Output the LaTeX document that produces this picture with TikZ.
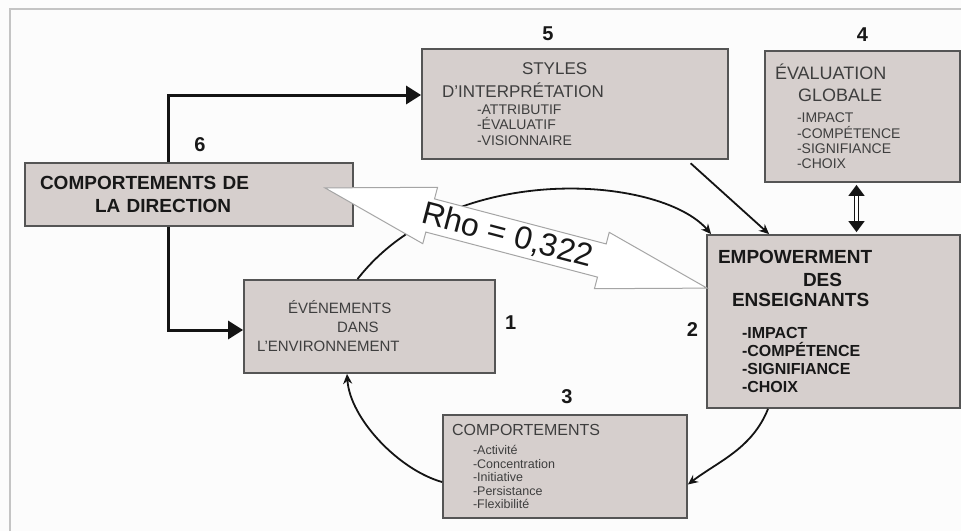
\documentclass[tikz,border=0pt]{standalone}
\usepackage{fontspec}
\setmainfont{Liberation Sans}
\usepackage{tikz}
\usetikzlibrary{positioning,arrows.meta,shapes.arrows}
\definecolor{bgcol}{RGB}{252,252,252}
\definecolor{framecol}{RGB}{196,196,196}
\definecolor{boxfill}{RGB}{214,207,205}
\definecolor{boxline}{RGB}{85,85,85}
\definecolor{txtgray}{RGB}{62,62,62}
\definecolor{txtdark}{RGB}{24,24,24}
\definecolor{linedark}{RGB}{20,20,20}
\definecolor{rhoedge}{RGB}{165,165,165}
\tikzset{main box/.style={rectangle,draw=boxline,fill=boxfill,line width=1.8pt,align=left,text=txtgray,inner ysep=0pt},
num node/.style={inner sep=0pt,font=\bfseries\fontsize{20}{20}\selectfont,text=txtdark},
thick link/.style={draw=linedark,line width=3pt,-{Triangle[length=15pt,width=18pt]}},
loop link/.style={draw=linedark,line width=1.8pt,-{Stealth[length=10pt,width=9pt]}},
}

\begin{document}
\begin{tikzpicture}[x=1pt,y=-1pt]
	\useasboundingbox (0,0) rectangle (961,531);
	\fill[bgcol] (0,0) rectangle (961,531);
	\draw[framecol,line width=2.5pt] (10,531) -- (10,9) -- (961,9);

	\node[main box, minimum width=328pt, minimum height=63pt, text width=298pt, inner xsep=15pt,
		text=txtdark, font=\bfseries\fontsize{19}{23}\selectfont] (dir) at (189,194.5)
		{COMPORTEMENTS DE\\\hspace*{55pt}LA DIRECTION};
	\node[main box, minimum width=306pt, minimum height=110pt, text width=266pt, inner xsep=20pt,
		font=\fontsize{14}{15.7}\selectfont] (styles) at (575,104)
		{\fontsize{17}{15.7}\selectfont\hspace*{80pt}STYLES\\[7.3pt]
		D'INTERPRÉTATION\\[1.3pt]
		\fontsize{14}{15.7}\selectfont\hspace*{35pt}-ATTRIBUTIF\\
		\hspace*{35pt}-ÉVALUATIF\\
		\hspace*{35pt}-VISIONNAIRE};
	\node[main box, minimum width=195pt, minimum height=131pt, text width=175pt, inner xsep=10pt,
		font=\fontsize{14}{15.3}\selectfont] (eval) at (862.5,116.5)
		{\fontsize{18}{15.3}\selectfont ÉVALUATION\\[6.7pt]
		\hspace*{23pt}GLOBALE\\[5.7pt]
		\fontsize{14}{15.3}\selectfont\hspace*{22pt}-IMPACT\\
		\hspace*{22pt}-COMPÉTENCE\\
		\hspace*{22pt}-SIGNIFIANCE\\
		\hspace*{22pt}-CHOIX};
	\node[main box, minimum width=253pt, minimum height=173pt, text width=231pt, inner xsep=11pt,
		text=txtdark, font=\bfseries\fontsize{16}{18}\selectfont] (emp) at (833.5,321.5)
		{\fontsize{19}{18}\selectfont EMPOWERMENT\\[5pt]
		\hspace*{85pt}DES\\[2pt]
		\hspace*{14pt}ENSEIGNANTS\\[14pt]
		\fontsize{16}{18}\selectfont\hspace*{24pt}-IMPACT\\
		\hspace*{24pt}-COMPÉTENCE\\
		\hspace*{24pt}-SIGNIFIANCE\\
		\hspace*{24pt}-CHOIX};
	\node[main box, minimum width=251pt, minimum height=93pt, text width=225pt, inner xsep=13pt,
		font=\fontsize{15}{19}\selectfont] (env) at (369.5,326.5)
		{\hspace*{31pt}ÉVÉNEMENTS\\
		\hspace*{80pt}DANS\\
		L'ENVIRONNEMENT};
	\node[main box, minimum width=244pt, minimum height=103pt, text width=226pt, inner xsep=9pt,
		font=\fontsize{12.5}{13.5}\selectfont] (beh) at (565,466.5)
		{\fontsize{16}{13.5}\selectfont COMPORTEMENTS\\[5.5pt]
		\fontsize{12.5}{13.5}\selectfont\hspace*{21pt}-Activité\\
		\hspace*{21pt}-Concentration\\
		\hspace*{21pt}-Initiative\\
		\hspace*{21pt}-Persistance\\
		\hspace*{21pt}-Flexibilité};

	\node[num node] (n1) [right=9pt of env, yshift=4pt] {1};
	\node[num node] (n2) [left=8pt of emp, yshift=-8pt] {2};
	\node[num node] (n3) [above=10pt of beh, xshift=2pt] {3};
	\node[num node] (n4) [above=8pt of eval] {4};
	\node[num node] (n5) [above=7pt of styles, xshift=-27pt] {5};
	\node[num node] (n6) [above=10pt of dir, xshift=11pt] {6};

	% cycle
	\draw[loop link] ([xshift=-12pt]env.north) .. controls (450,160) and (660,175) .. ([xshift=5pt]emp.north west);
	\draw[loop link] ([xshift=-65.5pt]emp.south) .. controls +(-16,40) and +(30,-23) .. ([yshift=-18pt]beh.east);
	\draw[loop link] ([yshift=-15.5pt]beh.west) .. controls +(-43,-12) and +(3,45) .. ([xshift=-22.5pt]env.south);

	\node[shape=double arrow, double arrow tip angle=30, double arrow head extend=12pt,
		minimum height=395pt, inner xsep=0pt, inner ysep=3pt, draw=rhoedge, fill=white, line width=1pt,
		font=\fontsize{32}{32}\selectfont, text=txtdark, rotate=-14.7] (rho) at (516,238)
		{\hspace*{-9pt}Rho = 0,322\hspace*{9pt}};

	\draw[thick link] ([xshift=-21pt]dir.north) |- ([yshift=9pt]styles.west);
	\draw[thick link] ([xshift=-21pt]dir.south) |- ([yshift=-3.5pt]env.west);
	\draw[loop link, shorten <=5pt] ([xshift=-42pt]styles.south east) -- ([xshift=63pt]emp.north west);
	\draw[draw=linedark, line width=1.6pt, double=white, double distance=2.5pt,
		{Triangle[length=11pt,width=16pt]}-{Triangle[length=11pt,width=16pt]}, shorten <=2pt, shorten >=2pt]
		([xshift=-6pt]eval.south) -- ([xshift=-6pt]eval.south |- emp.north);
\end{tikzpicture}
\end{document}
